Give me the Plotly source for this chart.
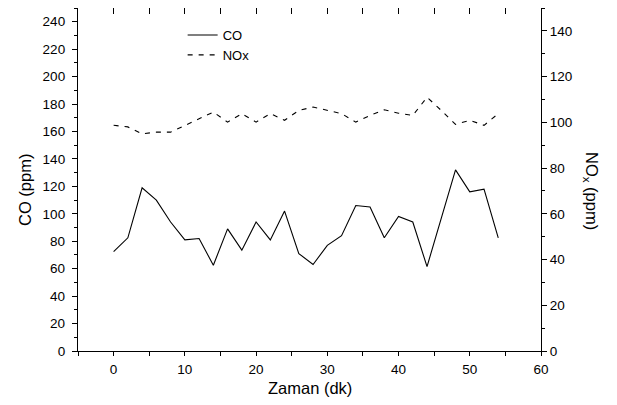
import plotly.graph_objects as go

time_min = [0, 2, 4, 6, 8, 10, 12, 14, 16, 18, 20, 22, 24, 26, 28, 30, 32, 34, 36, 38, 40, 42, 44, 46, 48, 50, 52, 54]
co_ppm = [72.5, 82.5, 119, 110, 94, 81, 82, 62.5, 89, 73.5, 94, 81, 102, 71, 63, 77, 84, 106, 105, 82.5, 98, 94, 61.5, 97, 132, 116, 118, 82.5]
nox_ppm = [98.7, 98, 95, 95.7, 95.7, 98.7, 101.6, 104.5, 100.1, 103.8, 100.1, 103.8, 100.9, 105.2, 106.7,
           105.2, 103.8, 100.1, 103, 105.5, 104, 103, 111, 105.2, 99.1, 100.9, 98.7, 103.8]

FONT = "Arial, Liberation Sans, sans-serif"

fig = go.Figure()
fig.add_trace(go.Scatter(x=time_min, y=co_ppm, mode="lines", name="CO",
                         line=dict(color="black", width=1.1), xaxis="x", yaxis="y"))
fig.add_trace(go.Scatter(x=time_min, y=nox_ppm, mode="lines", name="NOx",
                         line=dict(color="black", width=1.1, dash="5px,6px"), xaxis="x", yaxis="y2"))
# empty trace to make the mirrored top axis render
fig.add_trace(go.Scatter(x=[], y=[], xaxis="x2", yaxis="y", showlegend=False))

axis_common = dict(showgrid=False, zeroline=False, showline=True, linecolor="black", linewidth=1.3,
                   tickcolor="black", tickwidth=1.2,
                   tickfont=dict(family=FONT, size=13.5, color="black"))

# plot area on page: x 78..541, y 8..351 (page has an 8px body margin)
fig.update_layout(
    width=617, height=405,
    margin=dict(l=70, r=84, t=0, b=62),
    paper_bgcolor="white", plot_bgcolor="white",
    showlegend=True,
    legend=dict(x=0.226, y=0.965, xanchor="left", yanchor="top",
                bgcolor="rgba(0,0,0,0)", borderwidth=0,
                font=dict(family=FONT, size=13, color="black"),
                tracegroupgap=0, itemwidth=30),
    xaxis=dict(range=[-5, 60], tick0=0, dtick=10, ticks="outside", ticklen=4, ticklabelstandoff=2,
               minor=dict(dtick=5, tick0=0, ticks="outside", ticklen=4, tickcolor="black", tickwidth=1.2),
               anchor="y", **axis_common),
    xaxis2=dict(range=[-5, 60], overlaying="x", side="top", anchor="y", tick0=0, dtick=5,
                ticks="inside", ticklen=6, showticklabels=False, **axis_common),
    yaxis=dict(range=[0, 250], tick0=0, dtick=20, ticks="outside", ticklen=5, ticklabelstandoff=4,
               minor=dict(dtick=10, tick0=0, ticks="outside", ticklen=3, tickcolor="black", tickwidth=1.2),
               anchor="x", **axis_common),
    yaxis2=dict(range=[0, 150], tick0=0, dtick=20, overlaying="y", side="right", anchor="x",
                ticks="outside", ticklen=5,
                minor=dict(dtick=10, tick0=0, ticks="outside", ticklen=3, tickcolor="black", tickwidth=1.2),
                **axis_common),
    annotations=[
        dict(text="CO (ppm)", xref="paper", yref="paper", x=(25 - 78) / 463, y=(351 - 190) / 343,
             showarrow=False, textangle=-90, xanchor="center", yanchor="middle",
             font=dict(family=FONT, size=16.5, color="black")),
        dict(text="Zaman (dk)", xref="paper", yref="paper", x=0.5, y=-(388 - 351) / 343,
             showarrow=False, xanchor="center", yanchor="middle",
             font=dict(family=FONT, size=16.5, color="black")),
        dict(text="NO<sub>x</sub> (ppm)", xref="paper", yref="paper", x=(591 - 78) / 463,
             y=(351 - 191) / 343, showarrow=False, textangle=90, xanchor="center", yanchor="middle",
             font=dict(family=FONT, size=16.5, color="black")),
    ],
)

fig.write_html("out.html")
